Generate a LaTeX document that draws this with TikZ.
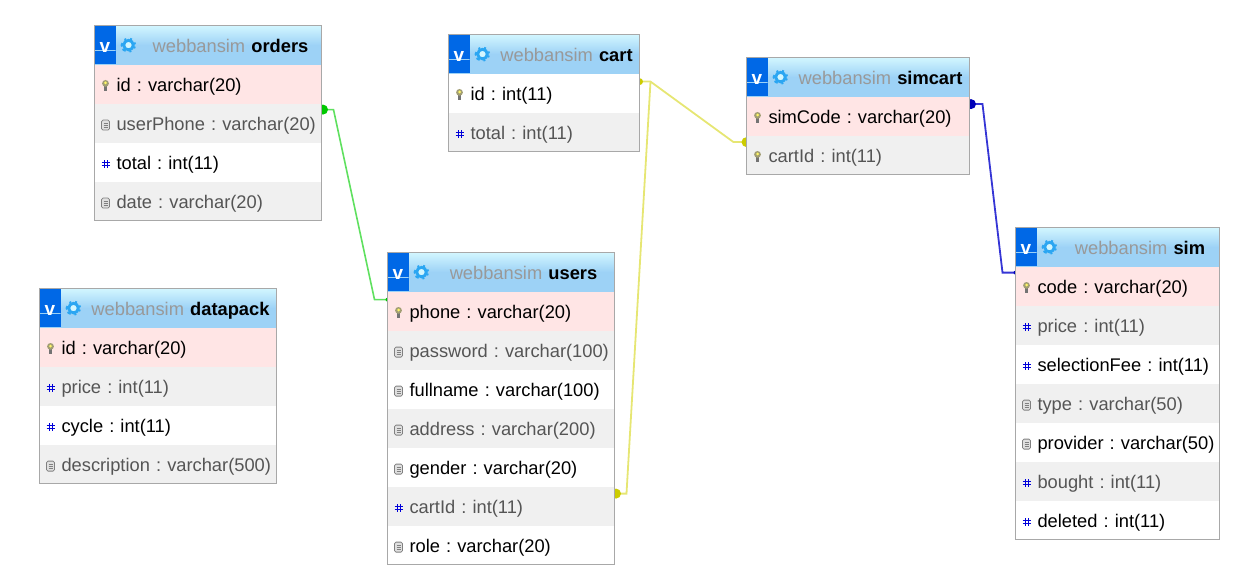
\documentclass[tikz,border=0pt]{standalone}
\usepackage{fontspec}
\setmainfont{Liberation Sans}
\usetikzlibrary{backgrounds}
\definecolor{headtop}{HTML}{D2F6FF}
\definecolor{headblue}{HTML}{9DD2F6}
\definecolor{btnblue}{HTML}{0068E6}
\definecolor{gearblue}{HTML}{2BA6F2}
\definecolor{pkfill}{HTML}{FFE5E5}
\definecolor{zebra}{HTML}{F0F0F0}
\definecolor{framegray}{HTML}{A8A8A8}
\definecolor{titlegray}{HTML}{999999}
\definecolor{greentext}{HTML}{555555}
\definecolor{greenline}{HTML}{5FE05F}
\definecolor{greendot}{HTML}{00C800}
\definecolor{yellowline}{HTML}{E6E673}
\definecolor{yellowdot}{HTML}{CCCC00}
\definecolor{blueline}{HTML}{3535D5}
\definecolor{bluedot}{HTML}{0000B8}
\tikzset{
	pics/keypic/.style={code={
		\fill[black!55] (-1.6pt,1pt) rectangle (1.6pt,-5pt);
		\fill[black!60!yellow!70!white] (0pt,2.2pt) circle (3.4pt);
		\fill[yellow!60!white] (0pt,2.6pt) circle (1.5pt);
	}},
	pics/docpic/.style={code={
		\draw[black!50, fill=black!12, rounded corners=1.5pt, line width=0.8pt] (-4pt,-5pt) rectangle (4pt,5pt);
		\draw[black!50, line width=0.7pt] (-2pt,2pt) -- (2pt,2pt) (-2pt,0pt) -- (2pt,0pt) (-2pt,-2pt) -- (2pt,-2pt);
	}},
	pics/hashpic/.style={code={
		\draw[blue!85!black, line width=0.9pt] (-1.5pt,-4pt) -- (-1.5pt,4pt) (1.5pt,-4pt) -- (1.5pt,4pt)
			(-4pt,-1.5pt) -- (4pt,-1.5pt) (-4pt,1.5pt) -- (4pt,1.5pt);
	}},
	keyicon/.style={append after command={([xshift=11pt,yshift=-1.5pt]\tikzlastnode.west) pic {keypic}}},
	docicon/.style={append after command={([xshift=11pt,yshift=-2pt]\tikzlastnode.west) pic {docpic}}},
	hashicon/.style={append after command={([xshift=11pt,yshift=-1.5pt]\tikzlastnode.west) pic {hashpic}}},
	rowbox/.style={anchor=north west, rectangle, outer sep=0pt, inner xsep=2pt, inner ysep=0pt,
		minimum width=#1, text width=#1-4, minimum height=39, text height=16, text depth=2,
		align=left, font=\fontsize{18.3}{20}\selectfont,
		execute at begin node={\frenchspacing\hyphenpenalty=10000\hspace*{20pt}}},
	pkrow/.style={fill=pkfill, text=black},
	plainrow/.style={fill=white, text=black},
	greyrow/.style={fill=zebra, text=greentext},
	headbox/.style={anchor=north west, rectangle, outer sep=0pt, inner xsep=2pt, inner ysep=0pt,
		minimum width=#1, text width=#1-4, minimum height=39, text height=16, text depth=2,
		align=center, top color=headtop, bottom color=headblue, middle color=headblue,
		font=\fontsize{18.3}{20}\selectfont\bfseries, execute at begin node={\hspace*{45pt}}},
	vbutton/.style={anchor=west, rectangle, fill=btnblue, outer sep=0pt, inner sep=0pt,
		minimum width=21, minimum height=38, text height=15, text depth=0, text=white,
		font=\fontsize{19}{20}\selectfont\bfseries,
		path picture={\draw[headblue, line width=1pt] ([yshift=-5pt]path picture bounding box.west) -- ([yshift=-5pt]path picture bounding box.east);}},
	gearicon/.style={circle, draw=gearblue, fill=headtop, line width=2.8pt, minimum size=9.5,
		inner sep=0pt, preaction={draw=gearblue, line width=6pt, dash pattern=on 2pt off 2.4pt}},
	tableframe/.style={draw=framegray, line width=1pt},
	greenlink/.style={draw=greenline, line width=1.6pt},
	yellowlink/.style={draw=yellowline, line width=1.8pt},
	bluelink/.style={draw=blueline, line width=1.8pt}
}
\newcommand{\dbname}{\textcolor{titlegray}{\mdseries webbansim}}
\begin{document}
\begin{tikzpicture}[x=1pt, y=-1pt]
	\useasboundingbox (0.5,0.4) rectangle (1259.5,583.4);

	% Table orders
	\node[headbox=227] (ordersHead) at (95,26) {\dbname{} orders};
	\node[vbutton] (ordersV) at (ordersHead.west) {v};
	\node[gearicon] (ordersGear) at ([xshift=34pt]ordersHead.west) {};
	\node[rowbox=227, pkrow, keyicon] (ordersId) at (95,65) {id : varchar(20)};
	\node[rowbox=227, greyrow, docicon] (ordersPhone) at (95,104) {userPhone : varchar(20)};
	\node[rowbox=227, plainrow, hashicon] (ordersTotal) at (95,143) {total : int(11)};
	\node[rowbox=227, greyrow, docicon] (ordersDate) at (95,182) {date : varchar(20)};
	\draw[tableframe] (ordersHead.north west) rectangle (ordersDate.south east);

	% Table datapack
	\node[headbox=237] (packHead) at (40,289) {\dbname{} datapack};
	\node[vbutton] (packV) at (packHead.west) {v};
	\node[gearicon] (packGear) at ([xshift=34pt]packHead.west) {};
	\node[rowbox=237, pkrow, keyicon] (packId) at (40,328) {id : varchar(20)};
	\node[rowbox=237, greyrow, hashicon] (packPrice) at (40,367) {price : int(11)};
	\node[rowbox=237, plainrow, hashicon] (packCycle) at (40,406) {cycle : int(11)};
	\node[rowbox=237, greyrow, docicon] (packDesc) at (40,445) {description : varchar(500)};
	\draw[tableframe] (packHead.north west) rectangle (packDesc.south east);

	% Table users
	\node[headbox=227] (usersHead) at (388,253) {\dbname{} users};
	\node[vbutton] (usersV) at (usersHead.west) {v};
	\node[gearicon] (usersGear) at ([xshift=34pt]usersHead.west) {};
	\node[rowbox=227, pkrow, keyicon] (usersPhone) at (388,292) {phone : varchar(20)};
	\node[rowbox=227, greyrow, docicon] (usersPass) at (388,331) {password : varchar(100)};
	\node[rowbox=227, plainrow, docicon] (usersName) at (388,370) {fullname : varchar(100)};
	\node[rowbox=227, greyrow, docicon] (usersAddr) at (388,409) {address : varchar(200)};
	\node[rowbox=227, plainrow, docicon] (usersGender) at (388,448) {gender : varchar(20)};
	\node[rowbox=227, greyrow, hashicon] (usersCart) at (388,487) {cartId : int(11)};
	\node[rowbox=227, plainrow, docicon] (usersRole) at (388,526) {role : varchar(20)};
	\draw[tableframe] (usersHead.north west) rectangle (usersRole.south east);

	% Table cart
	\node[headbox=191] (cartHead) at (449,35) {\dbname{} cart};
	\node[vbutton] (cartV) at (cartHead.west) {v};
	\node[gearicon] (cartGear) at ([xshift=34pt]cartHead.west) {};
	\node[rowbox=191, plainrow, keyicon] (cartId) at (449,74) {id : int(11)};
	\node[rowbox=191, greyrow, hashicon] (cartTotal) at (449,113) {total : int(11)};
	\draw[tableframe] (cartHead.north west) rectangle (cartTotal.south east);

	% Table simcart
	\node[headbox=223] (simcartHead) at (747,58) {\dbname{} simcart};
	\node[vbutton] (simcartV) at (simcartHead.west) {v};
	\node[gearicon] (simcartGear) at ([xshift=34pt]simcartHead.west) {};
	\node[rowbox=223, pkrow, keyicon] (simcartCode) at (747,97) {simCode : varchar(20)};
	\node[rowbox=223, greyrow, keyicon] (simcartCart) at (747,136) {cartId : int(11)};
	\draw[tableframe] (simcartHead.north west) rectangle (simcartCart.south east);

	% Table sim
	\node[headbox=204] (simHead) at (1016,228) {\dbname{} sim};
	\node[vbutton] (simV) at (simHead.west) {v};
	\node[gearicon] (simGear) at ([xshift=34pt]simHead.west) {};
	\node[rowbox=204, pkrow, keyicon] (simCode) at (1016,267) {code : varchar(20)};
	\node[rowbox=204, greyrow, hashicon] (simPrice) at (1016,306) {price : int(11)};
	\node[rowbox=204, plainrow, hashicon] (simFee) at (1016,345) {selectionFee : int(11)};
	\node[rowbox=204, greyrow, docicon] (simType) at (1016,384) {type : varchar(50)};
	\node[rowbox=204, plainrow, docicon] (simProvider) at (1016,423) {provider : varchar(50)};
	\node[rowbox=204, greyrow, hashicon] (simBought) at (1016,462) {bought : int(11)};
	\node[rowbox=204, plainrow, hashicon] (simDeleted) at (1016,501) {deleted : int(11)};
	\draw[tableframe] (simHead.north west) rectangle (simDeleted.south east);

	% Ports and bends of the connectors
	\coordinate (ordersPort) at ([yshift=13.5pt]ordersPhone.east);
	\coordinate (ordersBend) at ([xshift=12pt]ordersPort);
	\coordinate (usersPort) at ([yshift=11.5pt]usersPhone.west);
	\coordinate (usersBend) at ([xshift=-13pt]usersPort);
	\coordinate (cartPort) at ([yshift=11.5pt]cartId.east);
	\coordinate (cartBend) at ([xshift=11pt]cartPort);
	\coordinate (simcartPort) at ([yshift=13pt]simcartCart.west);
	\coordinate (simcartBend) at ([xshift=-13pt]simcartPort);
	\coordinate (usersCartPort) at ([yshift=12.5pt]usersCart.east);
	\coordinate (usersCartBend) at ([xshift=12pt]usersCartPort);
	\coordinate (codePort) at ([yshift=12pt]simcartCode.east);
	\coordinate (codeBend) at ([xshift=13pt]codePort);
	\coordinate (simPort) at ([yshift=13.5pt]simCode.west);
	\coordinate (simBend) at ([xshift=-13pt]simPort);

	% Draw the connectors behind the tables
	\begin{scope}[on background layer]
		\draw[greenlink] (ordersPort) -- (ordersBend) -- (usersBend) -- (usersPort);
		\fill[greendot] ([xshift=1.5pt]ordersPort) circle (5pt);
		\fill[greendot] (usersPort) circle (2pt);
		\draw[yellowlink] (cartPort) -- (cartBend) -- (simcartBend) -- (simcartPort);
		\draw[yellowlink] (cartBend) -- (usersCartBend) -- (usersCartPort);
		\fill[yellowdot] (cartPort) circle (3.5pt);
		\fill[yellowdot] (simcartPort) circle (5pt);
		\fill[yellowdot] ([xshift=1.5pt]usersCartPort) circle (5pt);
		\draw[bluelink] (codePort) -- (codeBend) -- (simBend) -- (simPort);
		\fill[bluedot] ([xshift=1.5pt]codePort) circle (5pt);
		\fill[bluedot] (simPort) circle (2pt);
	\end{scope}
\end{tikzpicture}
\end{document}
